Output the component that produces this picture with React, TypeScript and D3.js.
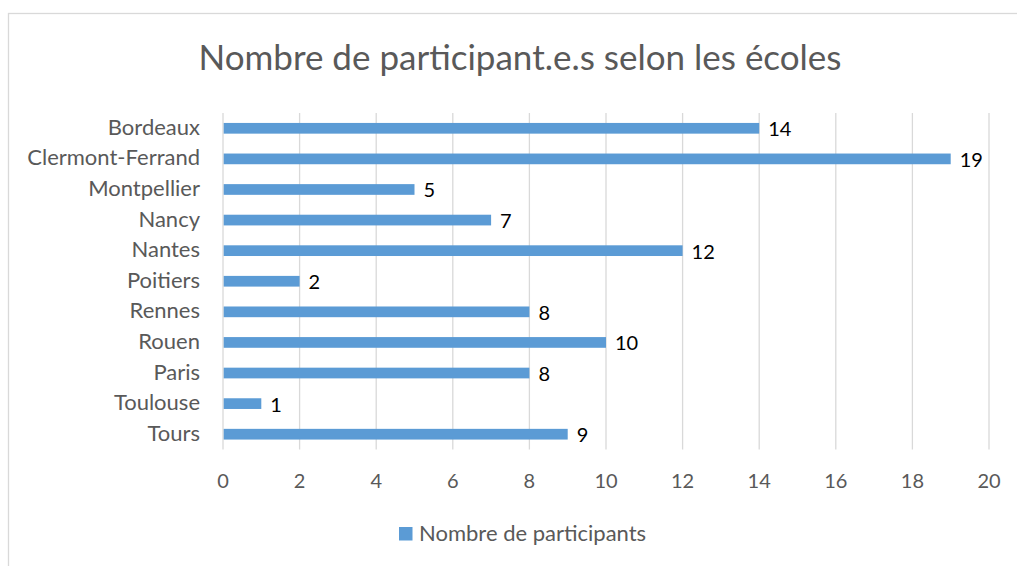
import React from "react";
import * as d3 from "d3";

const title = "Nombre de participant.e.s selon les écoles";
const categories = [
  "Bordeaux",
  "Clermont-Ferrand",
  "Montpellier",
  "Nancy",
  "Nantes",
  "Poitiers",
  "Rennes",
  "Rouen",
  "Paris",
  "Toulouse",
  "Tours",
];
const values = [14, 19, 5, 7, 12, 2, 8, 10, 8, 1, 9];
const xTicks = [0, 2, 4, 6, 8, 10, 12, 14, 16, 18, 20];
const seriesName = "Nombre de participants";

const W = 1017;
const H = 566;
const FONT = "Lato, 'Open Sans', sans-serif";
const GREY = "#595959";
const BLUE = "#5b9bd5";
const GRID = "#d9d9d9";

export default function App() {
  const x = d3.scaleLinear().domain([0, 20]).range([223, 989]);
  const y = d3
    .scaleBand<string>()
    .domain(categories)
    .range([113, 449.5])
    .paddingInner(0.65)
    .paddingOuter(0.325);
  const bw = y.bandwidth();

  return (
    <svg
      width={W}
      height={H}
      style={{ position: "absolute", left: 0, top: 0, background: "#fff" }}
      fontFamily={FONT}
    >
      <rect x={0} y={0} width={W} height={H} fill="#fff" />
      <rect
        x={8.5}
        y={13.5}
        width={W + 20}
        height={H + 20}
        fill="none"
        stroke={GRID}
        strokeWidth={1.3}
      />
      <text
        x={520}
        y={70}
        textAnchor="middle"
        fontSize={35}
        fill={GREY}
      >
        {title}
      </text>
      {xTicks.map((t) => (
        <g key={t}>
          <line
            x1={x(t)}
            x2={x(t)}
            y1={113}
            y2={449.5}
            stroke={GRID}
            strokeWidth={1.3}
          />
          <text
            x={x(t)}
            y={488}
            textAnchor="middle"
            fontSize={20}
            fill={GREY}
          >
            {t}
          </text>
        </g>
      ))}
      {categories.map((c, i) => {
        const yc = (y(c) as number) + bw / 2;
        return (
          <g key={c}>
            <rect
              x={x(0) + 0.7}
              y={y(c) as number}
              width={x(values[i]) - x(0) - 0.7}
              height={bw}
              fill={BLUE}
            />
            <text
              x={200}
              y={yc}
              dy="0.3em"
              textAnchor="end"
              fontSize={22}
              fill={GREY}
            >
              {c}
            </text>
            <text
              x={x(values[i]) + 9}
              y={yc}
              dy="0.4em"
              textAnchor="start"
              fontSize={20}
              fill="#000"
            >
              {values[i]}
            </text>
          </g>
        );
      })}
      <rect x={399} y={527} width={13.5} height={13.5} fill={BLUE} />
      <text x={419} y={540.5} fontSize={22} fill={GREY}>
        {seriesName}
      </text>
    </svg>
  );
}
